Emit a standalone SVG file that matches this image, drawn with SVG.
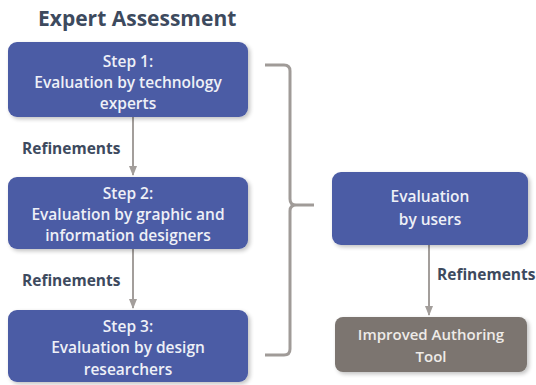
<svg xmlns="http://www.w3.org/2000/svg" width="536" height="385" viewBox="0 0 536 385">
  <defs>
    <filter id="shadow" x="-10%" y="-10%" width="125%" height="130%">
      <feGaussianBlur in="SourceAlpha" stdDeviation="2"/>
      <feOffset dx="1.5" dy="2" result="b"/>
      <feComponentTransfer><feFuncA type="linear" slope="0.25"/></feComponentTransfer>
      <feMerge><feMergeNode/><feMergeNode in="SourceGraphic"/></feMerge>
    </filter>
    <marker id="arrow" viewBox="0 0 10 10" refX="9" refY="5" markerWidth="5" markerHeight="5" orient="auto">
      <path d="M0,1 L10,5 L0,9 z" fill="#a39e9b"/>
    </marker>
    <style>
      .step { fill: #4b5ba5; filter: url(#shadow); }
      .final { fill: #7b7570; filter: url(#shadow); }
      .boxtext { font-family: "Open Sans", "Lato", sans-serif; font-size: 15.5px; font-weight: 600; fill: #eef0f7; text-anchor: middle; }
      .finaltext { font-family: "Open Sans", "Lato", sans-serif; font-size: 15px; font-weight: 600; fill: #eeebe8; text-anchor: middle; }
      .label { font-family: "Open Sans", "Lato", sans-serif; font-size: 15.5px; font-weight: bold; fill: #3d4a5e; }
      .title { font-family: "Open Sans", "Lato", sans-serif; font-size: 21px; font-weight: bold; fill: #3d4a5e; }
      .conn { stroke: #a39e9b; stroke-width: 2; fill: none; }
      .bracket { stroke: #a09b98; stroke-width: 3; fill: none; }
    </style>
  </defs>

  <text class="title" x="38" y="26">Expert Assessment</text>

  <g id="connectors">
    <line class="conn" x1="133" y1="117" x2="133" y2="175" marker-end="url(#arrow)"/>
    <line class="conn" x1="133" y1="249" x2="133" y2="308" marker-end="url(#arrow)"/>
    <line class="conn" x1="429" y1="245" x2="429" y2="315" marker-end="url(#arrow)"/>
    <path class="bracket" d="M265,65 L284,65 Q290,65 290,71 L290,199 Q290,205 296,205 L314,205 M296,205 Q290,205 290,211 L290,349 Q290,355 284,355 L265,355"/>
    <text class="label" x="22" y="154">Refinements</text>
    <text class="label" x="22" y="286">Refinements</text>
    <text class="label" x="437" y="280">Refinements</text>
  </g>

  <g id="step1">
    <rect class="step" x="8" y="42" width="240" height="75" rx="9"/>
    <text class="boxtext" x="128" y="67">Step 1:</text>
    <text class="boxtext" x="128" y="88">Evaluation by technology</text>
    <text class="boxtext" x="128" y="109">experts</text>
  </g>

  <g id="step2">
    <rect class="step" x="8" y="177" width="240" height="72" rx="9"/>
    <text class="boxtext" x="128" y="199">Step 2:</text>
    <text class="boxtext" x="128" y="220">Evaluation by graphic and</text>
    <text class="boxtext" x="128" y="241">information designers</text>
  </g>

  <g id="step3">
    <rect class="step" x="8" y="310" width="240" height="72" rx="9"/>
    <text class="boxtext" x="128" y="332">Step 3:</text>
    <text class="boxtext" x="128" y="353">Evaluation by design</text>
    <text class="boxtext" x="128" y="375">researchers</text>
  </g>

  <g id="users">
    <rect class="step" x="332" y="172" width="196" height="73" rx="9"/>
    <text class="boxtext" x="430" y="202">Evaluation</text>
    <text class="boxtext" x="430" y="225">by users</text>
  </g>

  <g id="tool">
    <rect class="final" x="335" y="317" width="192" height="55" rx="8"/>
    <text class="finaltext" x="431" y="340">Improved Authoring</text>
    <text class="finaltext" x="431" y="362">Tool</text>
  </g>
</svg>
